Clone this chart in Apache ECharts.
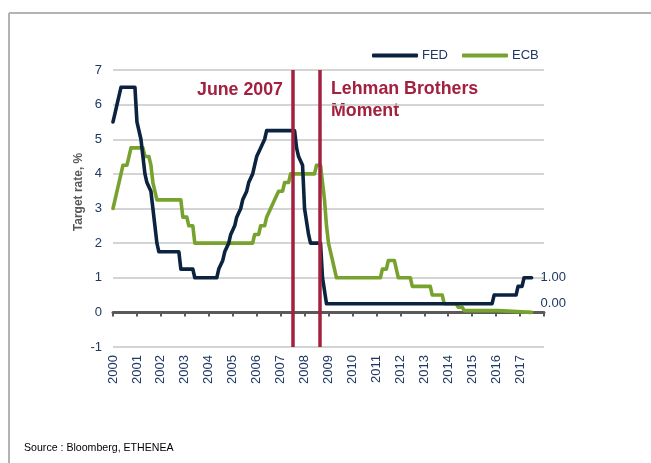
<!DOCTYPE html>
<html>
<head>
<meta charset="utf-8">
<script src="https://cdn.jsdelivr.net/npm/echarts@6/dist/echarts.min.js"></script>
<style>
  html, body { margin: 0; padding: 0; background: #fff; }
  #chart { width: 651px; height: 463px; }
</style>
</head>
<body>
<div id="chart"></div>
<script>
// Fed funds target rate, sampled at month changes (month start position)
const fedDates = ['2000-01-01', '2000-02-01', '2000-03-01', '2000-04-01', '2000-05-01', '2000-12-01',
  '2001-01-01', '2001-02-01', '2001-03-01', '2001-04-01', '2001-05-01', '2001-06-01', '2001-07-01',
  '2001-08-01', '2001-09-01', '2001-10-01', '2001-11-01', '2001-12-01', '2002-10-01', '2002-11-01',
  '2003-05-01', '2003-06-01', '2004-05-01', '2004-06-01', '2004-07-01', '2004-08-01', '2004-09-01',
  '2004-10-01', '2004-11-01', '2004-12-01', '2005-01-01', '2005-02-01', '2005-03-01', '2005-04-01',
  '2005-05-01', '2005-06-01', '2005-07-01', '2005-08-01', '2005-09-01', '2005-10-01', '2005-11-01',
  '2005-12-01', '2006-01-01', '2006-02-01', '2006-03-01', '2006-04-01', '2006-05-01', '2006-06-01',
  '2007-08-01', '2007-09-01', '2007-10-01', '2007-11-01', '2007-12-01', '2008-01-01', '2008-02-01',
  '2008-03-01', '2008-04-01', '2008-09-01', '2008-10-01', '2008-11-01', '2008-12-01', '2015-11-01',
  '2015-12-01', '2016-11-01', '2016-12-01', '2017-02-01', '2017-03-01', '2017-06-25'];
const fedRates = [5.5, 5.75, 6.0, 6.0, 6.5, 6.5,
  5.5, 5.5, 5.0, 4.5, 4.0, 3.75, 3.75,
  3.5, 3.0, 2.5, 2.0, 1.75, 1.75, 1.25,
  1.25, 1.0, 1.0, 1.25, 1.25, 1.5, 1.75,
  1.75, 2.0, 2.25, 2.25, 2.5, 2.75, 2.75,
  3.0, 3.25, 3.25, 3.5, 3.75, 3.75, 4.0,
  4.25, 4.5, 4.5, 4.75, 4.75, 5.0, 5.25,
  5.25, 4.75, 4.5, 4.5, 4.25, 3.0, 3.0,
  2.25, 2.0, 2.0, 1.0, 1.0, 0.25, 0.25,
  0.5, 0.5, 0.75, 0.75, 1.0, 1.0];

// ECB main refinancing rate
const ecbDates = ['2000-01-01', '2000-02-01', '2000-03-01', '2000-04-01', '2000-05-01', '2000-06-01',
  '2000-08-01', '2000-09-01', '2000-10-01', '2001-04-01', '2001-05-01', '2001-07-01', '2001-08-01',
  '2001-09-01', '2001-10-01', '2001-11-01', '2002-11-01', '2002-12-01', '2003-02-01', '2003-03-01',
  '2003-05-01', '2003-06-01', '2005-11-01', '2005-12-01', '2006-02-01', '2006-03-01', '2006-05-01',
  '2006-06-01', '2006-07-01', '2006-08-01', '2006-09-01', '2006-10-01', '2006-11-01', '2006-12-01',
  '2007-02-01', '2007-03-01', '2007-05-01', '2007-06-01', '2008-06-01', '2008-07-01', '2008-09-01',
  '2008-10-01', '2008-11-01', '2008-12-01', '2009-01-01', '2009-02-01', '2009-03-01', '2009-04-01',
  '2009-05-01', '2011-03-01', '2011-04-01', '2011-06-01', '2011-07-01', '2011-10-01', '2011-11-01',
  '2011-12-01', '2012-06-01', '2012-07-01', '2013-04-01', '2013-05-01', '2013-10-01', '2013-11-01',
  '2014-05-01', '2014-06-01', '2014-08-01', '2014-09-01', '2016-02-01', '2016-03-01', '2017-06-25'];
const ecbRates = [3.0, 3.25, 3.5, 3.75, 3.75, 4.25,
  4.25, 4.5, 4.75, 4.75, 4.5, 4.5, 4.25,
  3.75, 3.75, 3.25, 3.25, 2.75, 2.75, 2.5,
  2.5, 2.0, 2.0, 2.25, 2.25, 2.5, 2.5,
  2.75, 2.75, 3.0, 3.0, 3.25, 3.25, 3.5,
  3.5, 3.75, 3.75, 4.0, 4.0, 4.25, 4.25,
  3.75, 3.25, 2.5, 2.0, 2.0, 1.5, 1.25,
  1.0, 1.0, 1.25, 1.25, 1.5, 1.5, 1.25,
  1.0, 1.0, 0.75, 0.75, 0.5, 0.5, 0.25,
  0.25, 0.15, 0.15, 0.05, 0.05, 0.0, 0.0];

// vertical event markers
const eventDates = ['2007-07-01', '2008-08-25'];
const eventLabels = ['June 2007', 'Lehman Brothers\nMoment'];

const NAVY = '#0c2340';
const GREEN = '#76a22d';
const RED = '#a3203f';
const LABEL = '#1f3864';
const FONT = 'Liberation Sans, Arial, sans-serif';

// 'YYYY-MM-DD' -> decimal year
function toYear(s) {
  const [y, m, d] = s.split('-').map(Number);
  return y + (m - 1) / 12 + (d - 1) / 365;
}

const fedData = fedDates.map((d, i) => [toYear(d), fedRates[i]]);
const ecbData = ecbDates.map((d, i) => [toYear(d), ecbRates[i]]);

const chart = echarts.init(document.getElementById('chart'));
const option = {
  backgroundColor: '#fff',
  animation: false,
  textStyle: {fontFamily: FONT},
  grid: {left: 113, right: 107, top: 70, bottom: 116},
  legend: {
    left: 367,
    top: 44,
    itemWidth: 46,
    itemHeight: 4,
    itemGap: 14,
    icon: 'roundRect',
    textStyle: {fontSize: 13, color: LABEL, fontFamily: FONT, padding: [0, 0, 0, -1]},
    data: ['FED', 'ECB']
  },
  xAxis: [{
    type: 'value',
    min: 2000,
    max: 2018,
    interval: 1,
    axisLine: {show: false, onZero: false},
    axisTick: {show: false},
    splitLine: {show: false},
    axisLabel: {
      rotate: 90,
      fontSize: 13,
      color: LABEL,
      margin: 8,
      formatter: v => (v === 2018 ? '' : String(v))
    }
  }, {
    type: 'value',
    min: 2000,
    max: 2018,
    interval: 1,
    position: 'bottom',
    axisLine: {show: true, onZero: true, onZeroAxisIndex: 0, lineStyle: {color: '#5a5a5a', width: 3}},
    axisTick: {show: true, length: 4, lineStyle: {color: '#5a5a5a', width: 2}},
    axisLabel: {show: false},
    splitLine: {show: false}
  }],
  yAxis: {
    type: 'value',
    min: -1,
    max: 7,
    interval: 1,
    axisLine: {show: false},
    axisTick: {show: false},
    axisLabel: {fontSize: 13, color: LABEL, margin: 11},
    splitLine: {lineStyle: {color: '#c6c6c6', width: 1.5}}
  },
  series: [{
    name: 'FED',
    type: 'line',
    data: fedData,
    showSymbol: false,
    symbol: 'none',
    color: NAVY,
    lineStyle: {width: 3.6, color: NAVY, cap: 'round', join: 'round'},
    endLabel: {
      show: true,
      distance: 9,
      offset: [0, 0],
      fontSize: 13,
      color: LABEL,
      formatter: p => p.value[1].toFixed(2)
    },
    markLine: {
      silent: true,
      symbol: 'none',
      label: {show: false},
      lineStyle: {color: RED, width: 3.5, type: 'solid'},
      data: eventDates.map(d => ({xAxis: toYear(d)}))
    },
    z: 3
  }, {
    name: 'ECB',
    type: 'line',
    data: ecbData,
    showSymbol: false,
    symbol: 'none',
    color: GREEN,
    lineStyle: {width: 3.6, color: GREEN, cap: 'round', join: 'round'},
    endLabel: {
      show: true,
      distance: 9,
      offset: [0, -9],
      fontSize: 13,
      color: LABEL,
      formatter: p => p.value[1].toFixed(2)
    },
    z: 2
  }],
  graphic: [
    {type: 'line', shape: {x1: 9, y1: 13, x2: 651, y2: 13}, style: {stroke: '#b3b3b3', lineWidth: 2}},
    {type: 'line', shape: {x1: 9, y1: 13, x2: 9, y2: 463}, style: {stroke: '#b3b3b3', lineWidth: 2}},
    {
      type: 'text', x: 283, y: 90,
      style: {text: eventLabels[0], fill: RED, font: 'bold 17.8px ' + FONT, textAlign: 'right', textVerticalAlign: 'middle'}
    },
    {
      type: 'text', x: 331, y: 78,
      style: {text: eventLabels[1], fill: RED, font: 'bold 17.8px ' + FONT, lineHeight: 22, textAlign: 'left', textVerticalAlign: 'top'}
    },
    {
      type: 'text', x: 79, y: 192, rotation: Math.PI / 2,
      style: {text: 'Target rate, %', fill: '#595959', font: 'bold 12px ' + FONT, textAlign: 'center', textVerticalAlign: 'middle'}
    },
    {
      type: 'text', x: 24, y: 448,
      style: {text: 'Source : Bloomberg, ETHENEA', fill: '#000', font: '10.6px ' + FONT, textAlign: 'left', textVerticalAlign: 'middle'}
    }
  ]
};
chart.setOption(option);
</script>
</body>
</html>
